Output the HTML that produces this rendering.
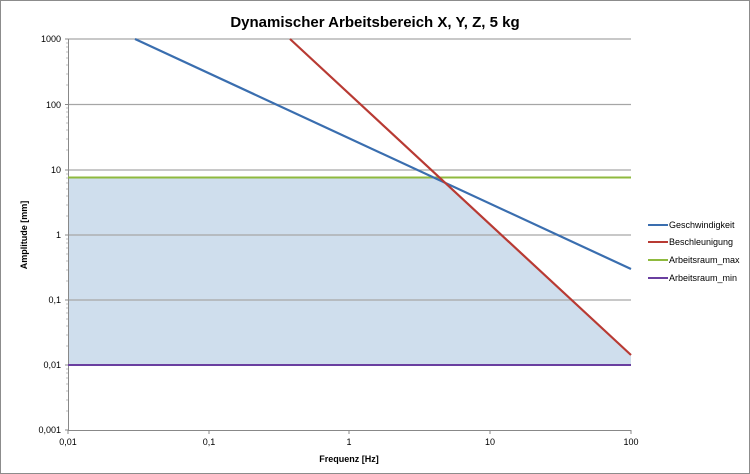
<!DOCTYPE html>
<html><head><meta charset="utf-8"><style>
body{margin:0;background:#fff}
svg{display:block;font-family:"Liberation Sans",sans-serif}
</style></head><body>
<svg width="750" height="474" viewBox="0 0 750 474">
<rect x="0.5" y="0.5" width="749" height="473" fill="#fff" stroke="#8c8c8c"/>
<text x="375" y="27" text-anchor="middle" font-size="15" font-weight="bold" fill="#000">Dynamischer Arbeitsbereich X, Y, Z, 5 kg</text>
<polygon points="68,178 434.2,178 445,182.9 631,355.3 631,365 68,365" fill="#cfdeed"/>
<g stroke="#a6a6a6" stroke-width="1.3">
<line x1="68" y1="39" x2="631" y2="39"/>
<line x1="68" y1="104.5" x2="631" y2="104.5"/>
<line x1="68" y1="170" x2="631" y2="170"/>
<line x1="68" y1="235" x2="631" y2="235"/>
<line x1="68" y1="300" x2="631" y2="300"/>
<line x1="68" y1="365" x2="631" y2="365"/>
</g>
<line x1="68" y1="430.5" x2="631" y2="430.5" stroke="#888"/>
<line x1="68.5" y1="39" x2="68.5" y2="431" stroke="#888"/>
<g stroke="#888">
<path d="M65 39H68M65 104.5H68M65 170H68M65 235H68M65 300H68M65 365H68M65 430H68"/>
<path d="M68 430v4M209 430v4M349 430v4M490 430v4M631 430v4"/>
</g>
<g stroke="#aaa" stroke-width="0.8">
<path d="M66 43H68M66 47H68M66 52H68M66 58H68M66 65H68M66 74H68M66 85H68
M66 108H68M66 112H68M66 117H68M66 123H68M66 130H68M66 139H68M66 150H68
M66 174H68M66 178H68M66 183H68M66 189H68M66 196H68M66 205H68M66 216H68
M66 239H68M66 243H68M66 248H68M66 254H68M66 261H68M66 270H68M66 281H68
M66 304H68M66 308H68M66 313H68M66 319H68M66 326H68M66 335H68M66 346H68
M66 369H68M66 373H68M66 378H68M66 384H68M66 391H68M66 400H68M66 411H68"/>
</g>
<line x1="68" y1="177.5" x2="631" y2="177.5" stroke="#8fba3e" stroke-width="2"/>
<line x1="68" y1="365" x2="631" y2="365" stroke="#6a3fa0" stroke-width="2"/>
<line x1="135" y1="39" x2="631" y2="269" stroke="#3a6eaf" stroke-width="2.2"/>
<line x1="290" y1="39" x2="631" y2="355" stroke="#b83a33" stroke-width="2.2"/>
<g font-size="9" fill="#000" text-anchor="end">
<text x="61" y="42">1000</text><text x="61" y="108">100</text><text x="61" y="173">10</text>
<text x="61" y="238">1</text><text x="61" y="303">0,1</text><text x="61" y="368">0,01</text><text x="61" y="433">0,001</text>
</g>
<g font-size="9" fill="#000" text-anchor="middle">
<text x="68" y="445">0,01</text><text x="209" y="445">0,1</text><text x="349" y="445">1</text>
<text x="490" y="445">10</text><text x="631" y="445">100</text>
</g>
<text x="349" y="462" text-anchor="middle" font-size="9" font-weight="bold">Frequenz [Hz]</text>
<text transform="translate(27,235) rotate(-90)" text-anchor="middle" font-size="9" font-weight="bold">Amplitude [mm]</text>
<g font-size="9" fill="#000">
<line x1="648" y1="225" x2="668" y2="225" stroke="#3a6eaf" stroke-width="2"/><text x="669" y="228">Geschwindigkeit</text>
<line x1="648" y1="242" x2="668" y2="242" stroke="#b83a33" stroke-width="2"/><text x="669" y="245">Beschleunigung</text>
<line x1="648" y1="260" x2="668" y2="260" stroke="#8fba3e" stroke-width="2"/><text x="669" y="263">Arbeitsraum_max</text>
<line x1="648" y1="278" x2="668" y2="278" stroke="#6a3fa0" stroke-width="2"/><text x="669" y="281">Arbeitsraum_min</text>
</g>
</svg>
</body></html>
